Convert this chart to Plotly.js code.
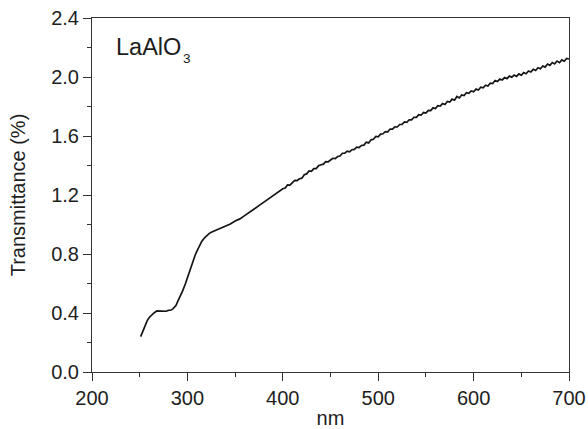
<!DOCTYPE html>
<html>
<head>
<meta charset="utf-8">
<script src="https://cdn.plot.ly/plotly-3.0.1.min.js"></script>
<style>
  html, body { margin: 0; padding: 0; background: #fff; }
  #chart { width: 588px; height: 429px; }
</style>
</head>
<body>
<div id="chart"></div>
<script>
// Wavelength (nm)
const wavelength = [
  251, 253, 255, 258, 260, 263, 265, 268, 270, 273, 275, 278, 280, 283, 285, 288, 290, 293, 295, 298,
  300, 303, 305, 308, 310, 313, 315, 318, 320, 323, 325, 330, 335, 340, 345, 350, 355, 360, 365, 370,
  375, 380, 385, 390, 395,
  400, 402.5, 405, 407.5, 410, 412.5, 415, 417.5, 420, 422.5, 425, 427.5, 430, 432.5, 435, 437.5, 440, 442.5, 445, 447.5,
  450, 452.5, 455, 457.5, 460, 462.5, 465, 467.5, 470, 472.5, 475, 477.5, 480, 482.5, 485, 487.5, 490, 492.5, 495, 497.5,
  500, 502.5, 505, 507.5, 510, 512.5, 515, 517.5, 520, 522.5, 525, 527.5, 530, 532.5, 535, 537.5, 540, 542.5, 545, 547.5,
  550, 552.5, 555, 557.5, 560, 562.5, 565, 567.5, 570, 572.5, 575, 577.5, 580, 582.5, 585, 587.5, 590, 592.5, 595, 597.5,
  600, 602.5, 605, 607.5, 610, 612.5, 615, 617.5, 620, 622.5, 625, 627.5, 630, 632.5, 635, 637.5, 640, 642.5, 645, 647.5,
  650, 652.5, 655, 657.5, 660, 662.5, 665, 667.5, 670, 672.5, 675, 677.5, 680, 682.5, 685, 687.5, 690, 692.5, 695, 697.5,
  700
];
// Transmittance (%)
const transmittance = [
  0.24, 0.27, 0.31, 0.35, 0.37, 0.39, 0.40, 0.415, 0.415, 0.41, 0.415, 0.412, 0.418, 0.42, 0.43, 0.45, 0.48, 0.52, 0.55, 0.60,
  0.64, 0.70, 0.74, 0.79, 0.82, 0.86, 0.885, 0.91, 0.925, 0.94, 0.947, 0.962, 0.973, 0.992, 1.003, 1.024, 1.038, 1.06, 1.08, 1.105,
  1.128, 1.152, 1.176, 1.197, 1.218,
  1.242, 1.247, 1.268, 1.267, 1.284, 1.299, 1.298, 1.31, 1.314, 1.337, 1.343, 1.363, 1.36, 1.379, 1.379, 1.399, 1.405, 1.409, 1.426, 1.424,
  1.437, 1.449, 1.447, 1.461, 1.464, 1.483, 1.484, 1.497, 1.493, 1.507, 1.509, 1.524, 1.522, 1.536, 1.538, 1.558, 1.553, 1.574, 1.578, 1.597,
  1.594, 1.613, 1.615, 1.63, 1.628, 1.647, 1.646, 1.662, 1.661, 1.678, 1.679, 1.695, 1.692, 1.71, 1.71, 1.727, 1.726, 1.744, 1.741, 1.759,
  1.755, 1.774, 1.772, 1.791, 1.786, 1.806, 1.803, 1.82, 1.814, 1.834, 1.83, 1.85, 1.843, 1.868, 1.858, 1.878, 1.874, 1.893, 1.889, 1.906,
  1.9, 1.918, 1.912, 1.931, 1.927, 1.944, 1.939, 1.958, 1.955, 1.976, 1.969, 1.986, 1.98, 1.996, 1.989, 2.006, 1.999, 2.013, 2.004, 2.021,
  2.012, 2.03, 2.022, 2.041, 2.034, 2.052, 2.044, 2.063, 2.056, 2.075, 2.067, 2.088, 2.079, 2.098, 2.089, 2.108, 2.097, 2.116, 2.107, 2.126,
  2.122
];
const xTickVals = [200, 300, 400, 500, 600, 700];
const yTickVals = [0.0, 0.4, 0.8, 1.2, 1.6, 2.0, 2.4];
const yTickText = ['0.0', '0.4', '0.8', '1.2', '1.6', '2.0', '2.4'];
const xTitle = 'nm';
const yTitle = 'Transmittance (%)';
const sampleName = 'LaAlO';
const sampleSub = '3';

const fontFam = 'Liberation Sans, Arial, Helvetica, sans-serif';
const axisCol = '#333333';
const textCol = '#1e1e1e';

const trace = {
  x: wavelength,
  y: transmittance,
  type: 'scatter',
  mode: 'lines',
  line: { color: '#151515', width: 1.7 },
  hoverinfo: 'skip'
};

const layout = {
  width: 588,
  height: 429,
  margin: { l: 92, r: 18.5, t: 17.5, b: 57, pad: 0 },
  paper_bgcolor: '#ffffff',
  plot_bgcolor: '#ffffff',
  showlegend: false,
  font: { family: fontFam, size: 20, color: textCol },
  xaxis: {
    range: [200, 700],
    tickmode: 'array',
    tickvals: xTickVals,
    ticks: 'outside',
    ticklen: 8,
    tickwidth: 1,
    tickcolor: axisCol,
    minor: { ticks: 'outside', ticklen: 4, dtick: 50, tickcolor: axisCol, tickwidth: 1, showgrid: false },
    showline: true,
    linecolor: axisCol,
    linewidth: 1,
    mirror: true,
    showgrid: false,
    zeroline: false,
    tickfont: { size: 20, color: textCol },
    title: { text: xTitle, font: { size: 20, color: textCol }, standoff: 5 },
    automargin: false
  },
  yaxis: {
    range: [0, 2.4],
    tickmode: 'array',
    tickvals: yTickVals,
    ticktext: yTickText,
    ticks: 'outside',
    ticklen: 8,
    tickwidth: 1,
    tickcolor: axisCol,
    minor: { ticks: 'outside', ticklen: 4, dtick: 0.2, tickcolor: axisCol, tickwidth: 1, showgrid: false },
    showline: true,
    linecolor: axisCol,
    linewidth: 1,
    mirror: true,
    showgrid: false,
    zeroline: false,
    tickfont: { size: 20, color: textCol },
    title: { text: yTitle, font: { size: 20, color: textCol }, standoff: 20 },
    automargin: false
  },
  annotations: [
    {
      text: sampleName,
      xref: 'paper', yref: 'paper',
      x: 0.047, y: 0.9168,
      xanchor: 'left', yanchor: 'middle',
      showarrow: false,
      font: { family: fontFam, size: 23.5, color: textCol }
    },
    {
      text: sampleSub,
      xref: 'paper', yref: 'paper',
      x: 0.1874, y: 0.8849,
      xanchor: 'left', yanchor: 'middle',
      showarrow: false,
      font: { family: fontFam, size: 13.5, color: textCol }
    }
  ]
};

Plotly.newPlot('chart', [trace], layout, { staticPlot: true, displayModeBar: false });
</script>
</body>
</html>
